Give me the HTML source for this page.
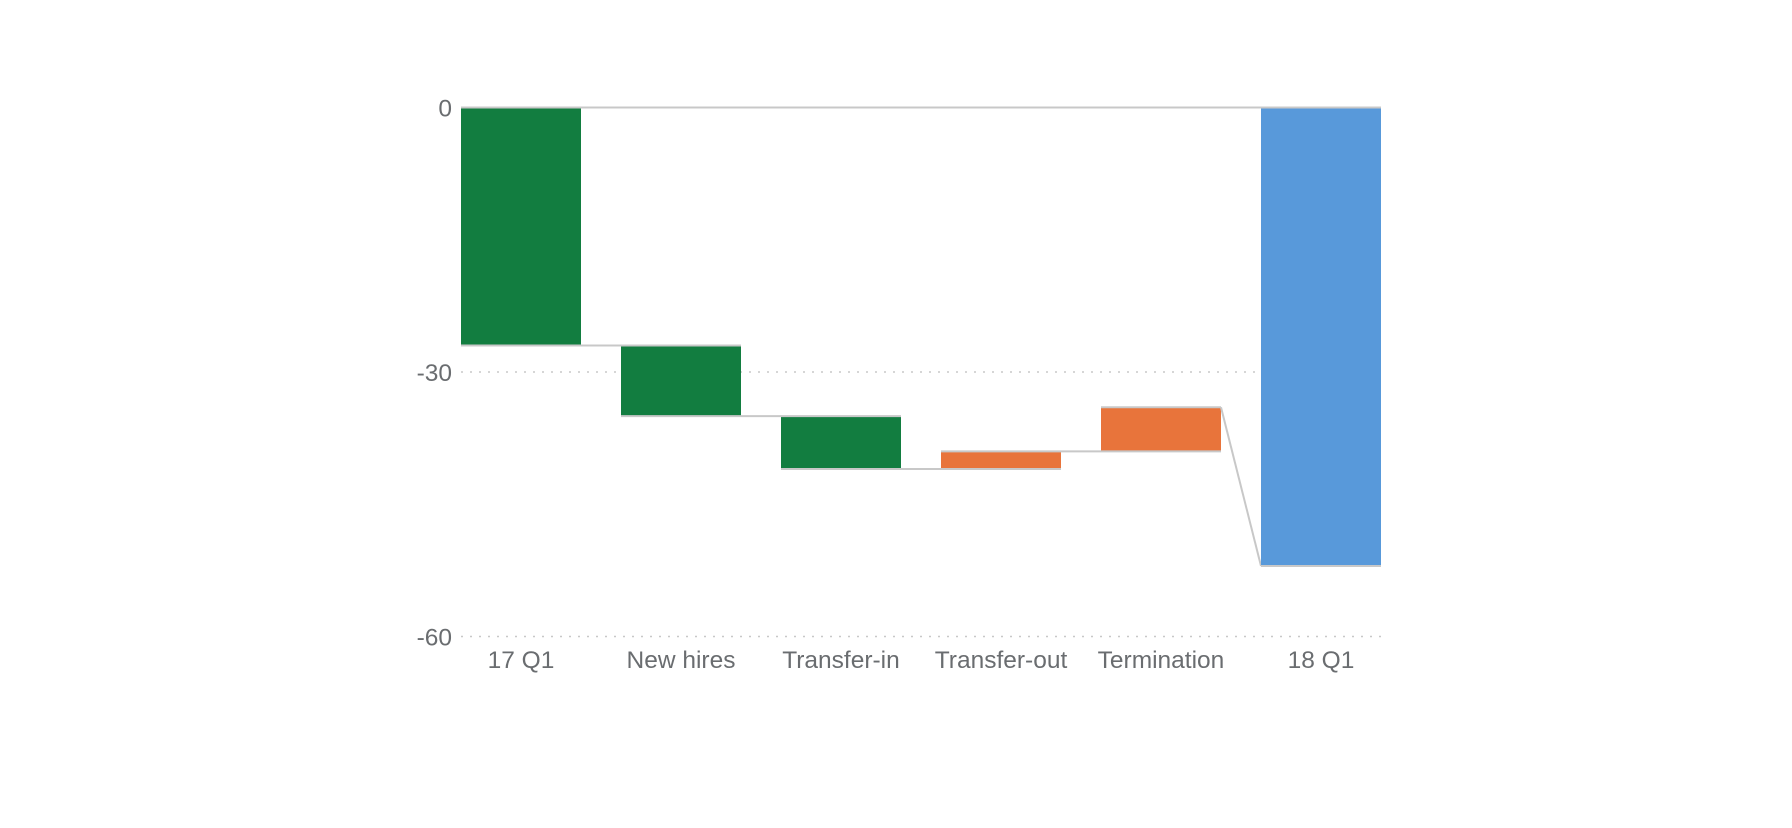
<!DOCTYPE html>
<html><head><meta charset="utf-8"><style>
html,body{margin:0;padding:0;background:#fff;width:1792px;height:828px;overflow:hidden}
text{font-family:"Liberation Sans",sans-serif;fill:#6a6d70;font-size:24.5px}
</style></head><body>
<svg id="chart" width="1792" height="828" xmlns="http://www.w3.org/2000/svg"></svg>
<script>
const categories = ["17 Q1","New hires","Transfer-in","Transfer-out","Termination","18 Q1"];
const deltas = [-27,-8,-6,2,5,-52];
const kinds = ["total","delta","delta","delta","delta","total"];
const yTicks = [0,-30,-60];

const svg = document.getElementById('chart');
const NS = 'http://www.w3.org/2000/svg';
const x0 = 461, step = 160, bw = 120;
const yTop = 107.5, yScale = 264.5/30;
const y = v => yTop - v*yScale;
const xb = i => x0 + i*step;
function mk(tag, attrs){const e=document.createElementNS(NS,tag);for(const k in attrs)e.setAttribute(k,attrs[k]);svg.appendChild(e);return e;}

yTicks.forEach(t=>{
  const l = mk('line',{x1:x0,x2:x0+5*step+bw,y1:y(t),y2:y(t),stroke:'#c8c8c8','stroke-width':t===0?2:1.5,'stroke-dasharray':t===0?'':'2 7'});
  
  
  const tx = mk('text',{x:452,y:y(t)+9,'text-anchor':'end'});
  tx.textContent = t;
  
  
});

let cum = 0; const ranges = [];
categories.forEach((c,i)=>{
  let a,b;
  if(kinds[i]==='total'){a=0;b=deltas[i];cum=deltas[i];}
  else {a=cum;b=cum+deltas[i];cum=b;}
  ranges.push([a,b]);
});
ranges.forEach((r,i)=>{
  const [a,b]=r;
  const color = kinds[i]==='total' ? (i===0?'#127d40':'#5899da') : (deltas[i]<0?'#127d40':'#e8743b');
  const top=Math.min(y(a),y(b)), h=Math.abs(y(a)-y(b));
  const rect = mk('rect',{x:xb(i),y:top,width:bw,height:h,fill:color});
  
  
  [top,top+h].forEach(yy=>{const e=mk('line',{x1:xb(i),x2:xb(i)+bw,y1:yy,y2:yy,stroke:'#c8c8c8','stroke-width':2});
    
    });
  if(i<ranges.length-1){
    const end = b;
    const nextStart = kinds[i+1]==='total' ? deltas[i+1] : end;
    const c = mk('line',{x1:xb(i)+bw,x2:xb(i+1),y1:y(end),y2:y(nextStart),stroke:'#c8c8c8','stroke-width':2});
    
    
  }
  const tx = mk('text',{x:xb(i)+bw/2,y:668,'text-anchor':'middle'});
  tx.textContent = categories[i];
  
  
});
</script>
</body></html>
